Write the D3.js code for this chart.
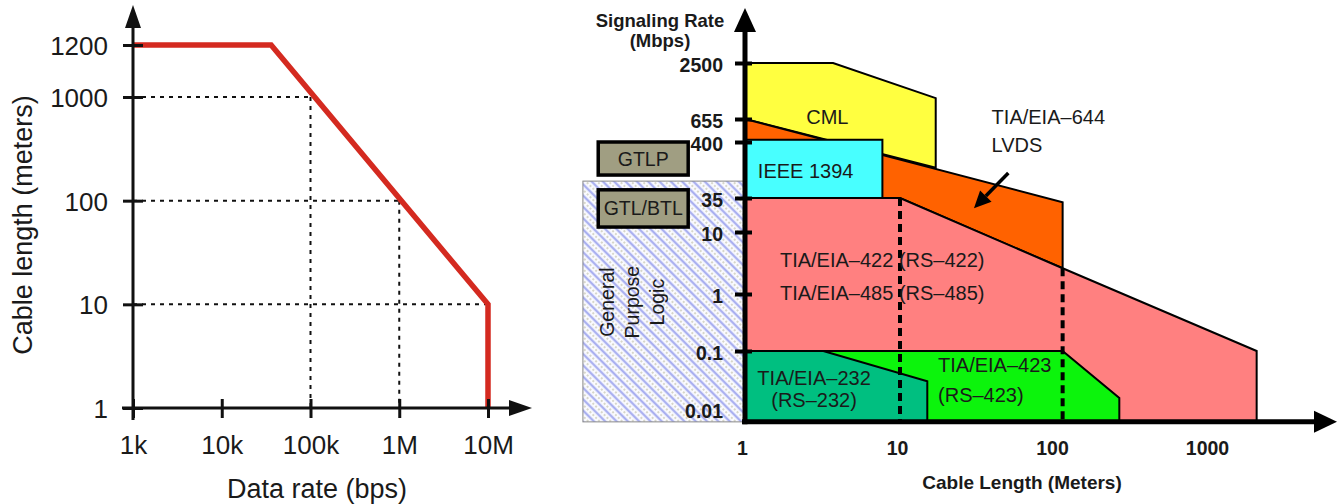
<!DOCTYPE html>
<html>
<head>
<meta charset="utf-8">
<script src="https://cdn.jsdelivr.net/npm/d3@7"></script>
<style>
  body { margin: 0; background: #fff; }
  text { font-family: "Liberation Sans", Arial, sans-serif; fill: #1a1a1a; }
</style>
</head>
<body>
<svg width="1343" height="504"></svg>
<script>
// ---- left chart: cable length vs data rate ----
var rateTicks = [1e3, 1e4, 1e5, 1e6, 1e7];
var rateLabels = ["1k", "10k", "100k", "1M", "10M"];
var lengthTicks = [1, 10, 100, 1000, 1200];
var maxLength = [[1e3, 1200], [3.6e4, 1200], [1e7, 10], [1e7, 1]];
var guidePoints = [[1e5, 1000], [1e6, 100], [1e7, 10]];

// ---- right chart: signaling rate vs cable length ----
var cableTicks = [1, 10, 100, 1000];
var signalTicks = [0.01, 0.1, 1, 10, 35, 400, 655, 2500];
var floorRate = 0.006;
var cml = [[1, 2500], [3.7, 2500], [17, 1080], [17, 130], [1, 655]];
var lvds = [[1, 655], [112, 30], [112, 2.6], [10, 35], [1, 35]];
var ieee1394 = [[1, 420], [7.7, 420], [7.7, 35], [1, 35]];
var rs422 = [[1, 35], [10, 35], [112, 2.6], [2000, 0.1], [2000, floorRate], [1, floorRate]];
var rs423 = [[1, 0.1], [112, 0.1], [260, 0.0155], [260, floorRate], [1, floorRate]];
var rs232 = [[1, 0.1], [3.2, 0.1], [15, 0.03], [15, floorRate], [1, floorRate]];
var dashedLimits = [[10, 35], [112, 2.6]];
var gplBox = [0.09, 1, 73, floorRate];
var gtlpBox = [0.113, 0.43, 400, 95];
var gtlBox = [0.113, 0.43, 50, 12];
var regionLabels = [
  {t: "CML", x: 3.4, y: 690, a: "middle"},
  {t: "IEEE 1394", x: 1.21, y: 113, a: "start"},
  {t: "TIA/EIA\u2013644", x: 39, y: 690, a: "start"},
  {t: "LVDS", x: 39, y: 350, a: "start"},
  {t: "TIA/EIA\u2013422 (RS\u2013422)", x: 1.68, y: 3.5, a: "start"},
  {t: "TIA/EIA\u2013485 (RS\u2013485)", x: 1.68, y: 1.04, a: "start"},
  {t: "TIA/EIA\u2013232", x: 2.79, y: 0.034, a: "middle"},
  {t: "(RS\u2013232)", x: 2.79, y: 0.0143, a: "middle"},
  {t: "TIA/EIA\u2013423", x: 17.6, y: 0.057, a: "start"},
  {t: "(RS\u2013423)", x: 17.6, y: 0.0174, a: "start"}
];
var gplLines = ["General", "Purpose", "Logic"];
var lvdsArrow = [[50, 104], [30, 24]];

var svg = d3.select("svg");

// ================= left chart =================
var xL = d3.scaleLog().domain([1e3, 1e7]).range([133, 488]);
var yLog = d3.scaleLinear().domain([0, 3, Math.log10(1200)]).range([408, 97, 45]);
var yL = function(v) { return yLog(Math.log10(v)); };

var left = svg.append("g");

guidePoints.forEach(function(p) {
  left.append("line")
    .attr("x1", xL(1e3)).attr("x2", xL(p[0]))
    .attr("y1", yL(p[1])).attr("y2", yL(p[1]))
    .attr("stroke", "#111").attr("stroke-width", 2).attr("stroke-dasharray", "4,5");
  left.append("line")
    .attr("x1", xL(p[0])).attr("x2", xL(p[0]))
    .attr("y1", yL(p[1])).attr("y2", yL(1))
    .attr("stroke", "#111").attr("stroke-width", 2).attr("stroke-dasharray", "4,5");
});

left.append("path")
  .datum(maxLength)
  .attr("d", d3.line().x(function(d) { return xL(d[0]); }).y(function(d) { return yL(d[1]); }))
  .attr("fill", "none").attr("stroke", "#d42a20").attr("stroke-width", 5.5);

var gxL = left.append("g").attr("transform", "translate(0," + yL(1) + ")")
  .call(d3.axisBottom(xL).tickValues(rateTicks).tickFormat(function(d, i) { return rateLabels[i]; }).tickSize(0));
gxL.select(".domain").remove();
gxL.selectAll("line").attr("y1", -9).attr("y2", 10).attr("stroke", "#111").attr("stroke-width", 3);
gxL.selectAll("text").attr("y", 37).attr("dy", "0.36em").style("font-size", "26px").attr("fill", "#1a1a1a");

var gyL = left.append("g").attr("transform", "translate(" + xL(1e3) + ",0)")
  .call(d3.axisLeft(yLog).tickValues(lengthTicks.map(Math.log10)).tickFormat(function(d, i) { return lengthTicks[i]; }).tickSize(0));
gyL.select(".domain").remove();
gyL.selectAll("line").attr("x1", -10).attr("x2", 10).attr("stroke", "#111").attr("stroke-width", 3);
gyL.selectAll("text").attr("x", -25).attr("dy", "0.36em").style("font-size", "26px").attr("fill", "#1a1a1a");

// axis lines with arrows
var ox = xL(1e3), oy = yL(1);
left.append("line").attr("x1", ox).attr("x2", ox).attr("y1", oy + 12).attr("y2", 22)
  .attr("stroke", "#111").attr("stroke-width", 3);
left.append("path").attr("d", "M" + ox + ",5L" + (ox - 8) + ",28L" + (ox + 8) + ",28Z").attr("fill", "#111");
left.append("line").attr("x1", ox - 11).attr("x2", 514).attr("y1", oy).attr("y2", oy)
  .attr("stroke", "#111").attr("stroke-width", 3);
left.append("path").attr("d", "M532," + oy + "L509," + (oy - 8) + "L509," + (oy + 8) + "Z").attr("fill", "#111");

left.append("text").attr("x", 317).attr("y", 488).attr("dy", "0.36em")
  .attr("text-anchor", "middle").style("font-size", "27px").text("Data rate (bps)");
left.append("text").attr("transform", "translate(22,225) rotate(-90)").attr("dy", "0.36em")
  .attr("text-anchor", "middle").style("font-size", "27px").text("Cable length (meters)");

// ================= right chart =================
var xR = d3.scaleLog().domain([1, 1000]).range([745, 1210]);
var yRlin = d3.scaleLinear().domain(signalTicks.map(Math.log10))
  .range([409, 351, 294, 232, 198, 142, 119, 63]);
var yR = function(v) { return yRlin(Math.log10(v)); };

var right = svg.append("g");
var defs = svg.append("defs");
var pat = defs.append("pattern").attr("id", "hatch").attr("patternUnits", "userSpaceOnUse")
  .attr("width", 8).attr("height", 8).attr("patternTransform", "rotate(-45)");
pat.append("rect").attr("width", 8).attr("height", 8).attr("fill", "#fbfbff");
pat.append("line").attr("x1", 2).attr("x2", 2).attr("y1", 0).attr("y2", 8)
  .attr("stroke", "#aab0f0").attr("stroke-width", 2.4);
pat.append("line").attr("x1", 6).attr("x2", 6).attr("y1", 0).attr("y2", 8)
  .attr("stroke", "#a8a888").attr("stroke-width", 0.9).attr("stroke-dasharray", "2,2");

// general purpose logic box
right.append("rect")
  .attr("x", xR(gplBox[0])).attr("width", xR(gplBox[1]) - xR(gplBox[0]))
  .attr("y", yR(gplBox[2])).attr("height", yR(gplBox[3]) - yR(gplBox[2]))
  .attr("fill", "url(#hatch)").attr("stroke", "#888").attr("stroke-width", 1);

gplLines.forEach(function(t, i) {
  right.append("text")
    .attr("transform", "translate(" + (xR(gplBox[0]) + 24 + i * 25) + "," + yR(0.72) + ") rotate(-90)")
    .attr("dy", "0.36em").attr("text-anchor", "middle")
    .style("font-size", "19.5px").attr("fill", "#333").text(t);
});

[[gtlpBox, "GTLP"], [gtlBox, "GTL/BTL"]].forEach(function(b) {
  var r = b[0];
  right.append("rect")
    .attr("x", xR(r[0])).attr("width", xR(r[1]) - xR(r[0]))
    .attr("y", yR(r[2])).attr("height", yR(r[3]) - yR(r[2]))
    .attr("fill", "#a09e82").attr("stroke", "#000").attr("stroke-width", 3.5);
  right.append("text")
    .attr("x", (xR(r[0]) + xR(r[1])) / 2).attr("y", (yR(r[2]) + yR(r[3])) / 2)
    .attr("dy", "0.36em").attr("text-anchor", "middle")
    .style("font-size", "19.5px").text(b[1]);
});

var poly = d3.line().x(function(d) { return xR(d[0]); }).y(function(d) { return yR(d[1]); });
[[cml, "#ffff40"], [lvds, "#ff6200"], [ieee1394, "#48ffff"], [rs422, "#ff8080"],
 [rs423, "#0cf40c"], [rs232, "#00bf80"]].forEach(function(r) {
  right.append("path").attr("d", poly(r[0]) + "Z")
    .attr("fill", r[1]).attr("stroke", "#000").attr("stroke-width", 2).attr("stroke-linejoin", "miter");
});

dashedLimits.forEach(function(p) {
  right.append("line")
    .attr("x1", xR(p[0])).attr("x2", xR(p[0]))
    .attr("y1", yR(p[1])).attr("y2", yR(floorRate))
    .attr("stroke", "#000").attr("stroke-width", 4).attr("stroke-dasharray", "8,5");
});

regionLabels.forEach(function(l) {
  right.append("text").attr("x", xR(l.x)).attr("y", yR(l.y)).attr("dy", "0.36em")
    .attr("text-anchor", l.a).style("font-size", "20px").text(l.t);
});

// LVDS pointer
var a0 = [xR(lvdsArrow[0][0]), yR(lvdsArrow[0][1])];
var a1 = [xR(lvdsArrow[1][0]), yR(lvdsArrow[1][1])];
var ang = Math.atan2(a1[1] - a0[1], a1[0] - a0[0]);
var hl = 17, hw = 8;
var bx = a1[0] - hl * Math.cos(ang), by = a1[1] - hl * Math.sin(ang);
right.append("line").attr("x1", a0[0]).attr("y1", a0[1]).attr("x2", bx).attr("y2", by)
  .attr("stroke", "#000").attr("stroke-width", 3.5);
right.append("path").attr("d", "M" + a1[0] + "," + a1[1] +
    "L" + (bx + hw * Math.sin(ang)) + "," + (by - hw * Math.cos(ang)) +
    "L" + (bx - hw * Math.sin(ang)) + "," + (by + hw * Math.cos(ang)) + "Z")
  .attr("fill", "#000");

// axes
var rx = xR(1), ry = yR(floorRate);
var gyR = right.append("g").attr("transform", "translate(" + rx + ",0)")
  .call(d3.axisLeft(yRlin).tickValues(signalTicks.map(Math.log10))
    .tickFormat(function(d, i) { return signalTicks[i]; }).tickSize(0));
gyR.select(".domain").remove();
gyR.selectAll("line").attr("x1", -10).attr("x2", 7).attr("stroke", "#000").attr("stroke-width", 4)
  .filter(function(d, i) { return i === 0; }).remove();
gyR.selectAll("text").attr("x", -22).attr("dy", "0.45em").style("font-size", "19.5px")
  .style("font-weight", "bold").attr("fill", "#1a1a1a");

var gxR = right.append("g").attr("transform", "translate(0," + ry + ")")
  .call(d3.axisBottom(xR).tickValues(cableTicks).tickFormat(d3.format("d")).tickSize(0));
gxR.select(".domain").remove();
gxR.selectAll("text").attr("x", -3).attr("y", 26).attr("dy", "0.36em").style("font-size", "19.5px")
  .style("font-weight", "bold").attr("fill", "#1a1a1a");

right.append("line").attr("x1", rx).attr("x2", rx).attr("y1", ry + 2.5).attr("y2", 30)
  .attr("stroke", "#000").attr("stroke-width", 5);
right.append("path").attr("d", "M" + rx + ",8L" + (rx - 11) + ",32L" + (rx + 11) + ",32Z").attr("fill", "#000");
right.append("line").attr("x1", rx - 3).attr("x2", 1318).attr("y1", ry).attr("y2", ry)
  .attr("stroke", "#000").attr("stroke-width", 5);
right.append("path").attr("d", "M1337," + ry + "L1314," + (ry - 11) + "L1314," + (ry + 11) + "Z").attr("fill", "#000");

right.append("text").attr("x", 660).attr("y", 27).attr("text-anchor", "middle")
  .style("font-size", "18.5px").style("font-weight", "bold").text("Signaling Rate");
right.append("text").attr("x", 660).attr("y", 47).attr("text-anchor", "middle")
  .style("font-size", "18.5px").style("font-weight", "bold").text("(Mbps)");
right.append("text").attr("x", 1022).attr("y", 482).attr("dy", "0.36em").attr("text-anchor", "middle")
  .style("font-size", "19px").style("font-weight", "bold").text("Cable Length (Meters)");
</script>
</body>
</html>
